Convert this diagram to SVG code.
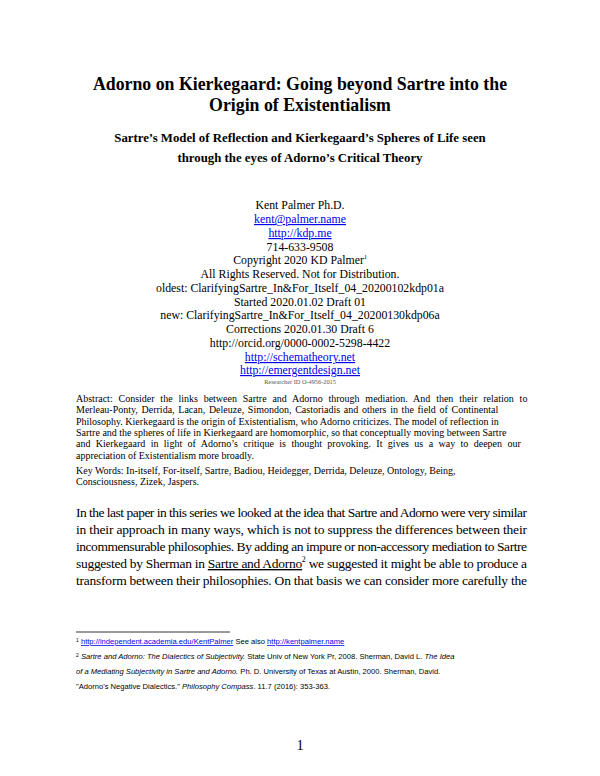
<svg xmlns="http://www.w3.org/2000/svg" width="600" height="776" viewBox="0 0 600 776">
<style>
.s{font-family:"Liberation Serif","Times New Roman",serif;fill:#000}
.c{text-anchor:middle}
.t{font-weight:bold;font-size:17.8px}
.st{font-weight:bold;font-size:12.8px}
.a{font-size:11.8px}
.ln{fill:#0000ee;text-decoration:underline}
.ab{font-size:10px}
.b{font-size:13.5px}
.f{font-family:"Liberation Sans",Arial,sans-serif;font-size:7.6px;fill:#000}
</style>
<rect width="600" height="776" fill="#fff"/>
<g class="s c">
<text class="t" x="300" y="90">Adorno on Kierkegaard: Going beyond Sartre into the</text>
<text class="t" x="300" y="111">Origin of Existentialism</text>
<text class="st" x="300" y="142">Sartre’s Model of Reflection and Kierkegaard’s Spheres of Life seen</text>
<text class="st" x="300" y="162">through the eyes of Adorno’s Critical Theory</text>
<g class="a">
<text x="300" y="209">Kent Palmer Ph.D.</text>
<text class="ln" x="300" y="223">kent@palmer.name</text>
<text class="ln" x="300" y="237">http://kdp.me</text>
<text x="300" y="251">714-633-9508</text>
<text x="300" y="264">Copyright 2020 KD Palmer<tspan font-size="6" dy="-5">1</tspan></text>
<text x="300" y="278">All Rights Reserved. Not for Distribution.</text>
<text x="300" y="292">oldest: ClarifyingSartre_In&amp;For_Itself_04_20200102kdp01a</text>
<text x="300" y="306">Started 2020.01.02 Draft 01</text>
<text x="300" y="319">new: ClarifyingSartre_In&amp;For_Itself_04_20200130kdp06a</text>
<text x="300" y="333">Corrections 2020.01.30 Draft 6</text>
<text x="300" y="347">http://orcid.org/0000-0002-5298-4422</text>
<text class="ln" x="300" y="361">http://schematheory.net</text>
<text class="ln" x="300" y="374">http://emergentdesign.net</text>
</g>
<text x="300" y="384" font-size="6.3" fill="#555">Researcher ID O-4956-2015</text>
</g>
<g class="s ab">
<text x="76" y="402" word-spacing="3.3">Abstract: Consider the links between Sartre and Adorno through mediation. And then their relation to</text>
<text x="76" y="413" word-spacing="1.2">Merleau-Ponty, Derrida, Lacan, Deleuze, Simondon, Castoriadis and others in the field of Continental</text>
<text x="76" y="425">Philosophy. Kierkegaard is the origin of Existentialism, who Adorno criticizes. The model of reflection in</text>
<text x="76" y="436">Sartre and the spheres of life in Kierkegaard are homomorphic, so that conceptually moving between Sartre</text>
<text x="76" y="447" word-spacing="2.9">and Kierkegaard in light of Adorno’s critique is thought provoking. It gives us a way to deepen our</text>
<text x="76" y="459">appreciation of Existentialism more broadly.</text>
<text x="76" y="474">Key Words: In-itself, For-itself, Sartre, Badiou, Heidegger, Derrida, Deleuze, Ontology, Being,</text>
<text x="76" y="485">Consciousness, Zizek, Jaspers.</text>
</g>
<g class="s b">
<text x="76" y="517" textLength="451" lengthAdjust="spacing">In the last paper in this series we looked at the idea that Sartre and Adorno were very similar</text>
<text x="76" y="534" textLength="451" lengthAdjust="spacing">in their approach in many ways, which is not to suppress the differences between their</text>
<text x="76" y="551" textLength="451" lengthAdjust="spacing">incommensurable philosophies. By adding an impure or non-accessory mediation to Sartre</text>
<text x="76" y="568" textLength="451" lengthAdjust="spacing">suggested by Sherman in <tspan text-decoration="underline">Sartre and Adorno</tspan><tspan font-size="8" dy="-6">2</tspan><tspan dy="6"> we suggested it might be able to produce a</tspan></text>
<text x="76" y="585" textLength="451" lengthAdjust="spacing">transform between their philosophies. On that basis we can consider more carefully the</text>
</g>
<line x1="76" y1="632" x2="230" y2="632" stroke="#000" stroke-width="0.8"/>
<g class="f">
<text x="76" y="644"><tspan font-size="5" dy="-2">1</tspan><tspan dy="2"> </tspan><tspan fill="#0000ee" text-decoration="underline">http://independent.academia.edu/KentPalmer</tspan> See also <tspan fill="#0000ee" text-decoration="underline">http://kentpalmer.name</tspan></text>
<text x="76" y="659"><tspan font-size="5" dy="-2">2</tspan><tspan dy="2"> </tspan><tspan font-style="italic">Sartre and Adorno: The Dialectics of Subjectivity.</tspan> State Univ of New York Pr, 2008.  Sherman, David L. <tspan font-style="italic">The Idea</tspan></text>
<text x="76" y="674"><tspan font-style="italic">of a Mediating Subjectivity in Sartre and Adorno.</tspan> Ph. D. University of Texas at Austin, 2000. Sherman, David.</text>
<text x="76" y="689">"Adorno's Negative Dialectics." <tspan font-style="italic">Philosophy Compass</tspan>. 11.7 (2016): 353-363.</text>
</g>
<text class="s c" x="300" y="750" font-size="14.5">1</text>
</svg>
